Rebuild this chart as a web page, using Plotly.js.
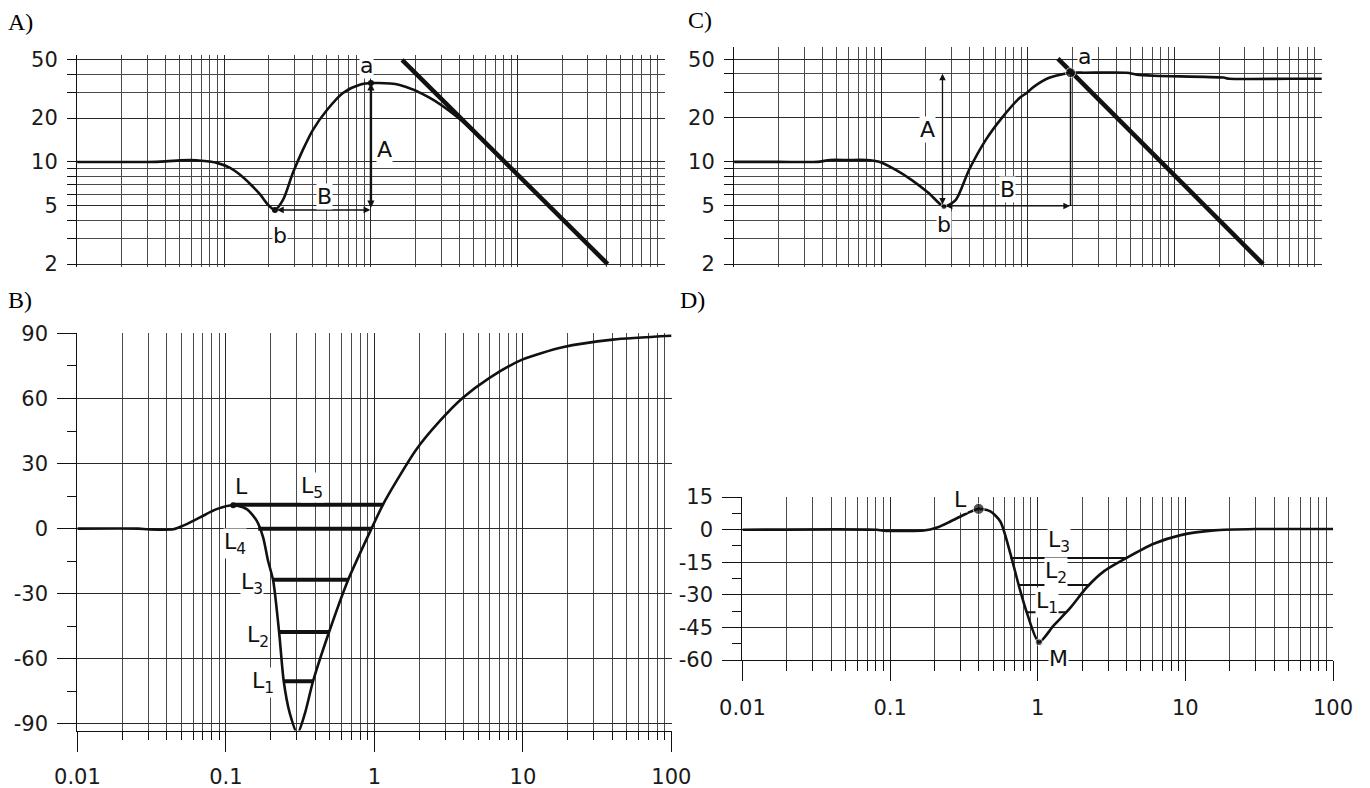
<!DOCTYPE html>
<html>
<head>
<meta charset="utf-8">
<script src="https://cdn.plot.ly/plotly-3.0.1.min.js"></script>
<style>html,body{margin:0;padding:0;background:#fff;}#chart{width:1370px;height:788px;}</style>
</head>
<body>
<div id="chart"></div>
<script>
// ---------- data ----------
const decadeTicks = [0.01, 0.1, 1, 10, 100];
const decadeLabels = ['0.01', '0.1', '1', '10', '100'];
const minorFreqTicks = [0.02,0.03,0.04,0.05,0.06,0.07,0.08,0.09,
  0.2,0.3,0.4,0.5,0.6,0.7,0.8,0.9, 2,3,4,5,6,7,8,9, 20,30,40,50,60,70,80,90];

const magTicks = [2, 5, 10, 20, 50];
const magLabels = ['2', '5', '10', '20', '50'];
const magMinorTicks = [3, 4, 6, 7, 8, 9, 30, 40];

const phaseBTicks = [-90, -60, -30, 0, 30, 60, 90];
const phaseBLabels = ['-90', '-60', '-30', '0', '30', '60', '90'];
const phaseBMinor = [-75, -45, -15, 15, 45, 75];

const phaseDTicks = [-60, -45, -30, -15, 0, 15];
const phaseDLabels = ['-60', '-45', '-30', '-15', '0', '15'];
const phaseDMinor = [-52.5, -37.5, -22.5, -7.5, 7.5];

// Panel A: magnitude
const aFreq = [0.01,0.02,0.03,0.04,0.05,0.06,0.07,0.0895,0.11,0.128,0.15,0.176,0.199,0.222,0.252,0.294,0.344,0.403,0.502,0.645,0.84,1.03,1.57,2.52,3.85,6.45,8,10];
const aMag  = [10,10,10,10.1,10.25,10.3,10.2,9.86,9.1,8.2,7.1,6.0,5.1,4.7,5.5,8.4,12.1,16.6,22.7,29.7,33.8,34.7,33.7,27.5,20.4,12.7,10.2,8.1];
const aAsymFreq = [1.63, 40.9];
const aAsymMag = [50, 2];
const aPointFreq = [1.0, 0.222];
const aPointMag = [34.7, 4.7];

// Panel C: magnitude
const cFreq = [0.01,0.02,0.037,0.045,0.06,0.079,0.097,0.126,0.162,0.212,0.268,0.323,0.397,0.518,0.665,0.88,0.98,1.1,1.41,1.95,2.43,4.7,5.5,7.2,21.4,23.5,60,100];
const cMag  = [10,10,10,10.3,10.3,10.3,10,8.8,7.5,6.1,4.95,5.5,8.8,14.2,20,27.4,29.6,32.7,37.7,40.7,40.7,40.7,39.5,38.8,37.7,37,37,37];
const cAsymFreq = [1.6, 39.9];
const cAsymMag = [50.8, 2];
const cPointFreq = [1.95, 0.268];
const cPointMag = [40.7, 4.95];

// Panel B: phase
const bFreq  = [0.01,0.0257,0.03,0.0442,0.0516,0.0669,0.0865,0.112,0.138,0.161,0.178,0.192,0.208,0.228,0.245,0.269,0.303,0.34,0.386,0.495,0.665,0.955,1.14,1.41,1.92,2.75,3.94,5.96,9.88,18.5,40.2,100];
const bPhase = [0,0,-0.3,-0.3,1.4,5.2,9.0,10.8,9.0,3.7,-4,-14.7,-23.9,-47.6,-70.3,-85,-94.4,-85.2,-70.3,-47.6,-23.6,0,11,22,36.6,49.5,60.3,69.5,77.9,83.6,87.1,88.9];
const bLevelY     = [-70.3, -47.6, -23.5, 0, 11];
const bLevelStart = [0.245, 0.228, 0.208, 0.165, 0.112];
const bLevelEnd   = [0.386, 0.495, 0.665, 0.955, 1.14];
const bPointFreq = [0.112, 0.303];
const bPointPhase = [10.8, -94.4];

// Panel D: phase
const dFreq  = [0.01,0.0815,0.09,0.169,0.208,0.256,0.332,0.398,0.478,0.558,0.653,0.743,0.847,1.02,1.28,1.66,2.15,2.79,4.0,6.1,9.3,15.6,30,100];
const dPhase = [0,0,-0.4,-0.4,1.0,3.8,7.6,9.6,8.4,3.8,-11,-25.5,-38.5,-51.8,-44.2,-36,-26.5,-19.3,-13,-6.5,-2.5,-0.3,0.3,0.3];
const dLevelY     = [-38, -25.5, -13];
const dLevelStart = [0.84, 0.743, 0.653];
const dLevelEnd   = [1.56, 2.25, 4.0];
const dPointFreq = [0.398, 1.02];
const dPointPhase = [9.6, -51.8];

// ---------- layout helpers ----------
const W = 1370, H = 788;
const dX = (a, b) => [a / W, b / W];
const dY = (top, bottom) => [1 - bottom / H, 1 - top / H];
const L10 = Math.log10;
const INK = '#111';
const GRID = '#2a2a2a';
const GRIDMINOR = '#4a4a4a';
const SANS = 'DejaVu Sans, Liberation Sans, Arial, sans-serif';
const tickFont = {family: SANS, size: 21, color: '#1a1a1a'};
const labFont = {family: SANS, size: 22, color: INK};

function freqAxis(domain, anchor, labels, majorLen, minorLen, standoff) {
  return {
    type: 'log', domain: domain, anchor: anchor, range: [-2.001, 2.002],
    tickmode: 'array', tickvals: decadeTicks, ticktext: decadeLabels,
    showticklabels: labels, ticks: labels ? 'outside' : '', ticklen: majorLen, tickcolor: INK, tickwidth: 1,
    ticklabelstandoff: standoff,
    showgrid: true, gridcolor: GRID, gridwidth: 1,
    minor: {tickmode: 'array', tickvals: minorFreqTicks, showgrid: true, gridcolor: GRIDMINOR, gridwidth: 1,
            ticks: labels ? 'outside' : '', ticklen: minorLen, tickcolor: INK},
    showline: false, zeroline: false, tickfont: tickFont, fixedrange: true
  };
}
function levels(starts, ends, ys) {
  const x = [], y = [];
  for (let i = 0; i < ys.length; i++) { x.push(starts[i], ends[i], null); y.push(ys[i], ys[i], null); }
  return {x, y};
}
function lab(xr, yr, xv, yv, text, logY, extra) {
  return Object.assign({xref: xr, yref: yr, x: L10(xv), y: logY ? L10(yv) : yv, text: text,
    showarrow: false, font: labFont, bgcolor: 'white', borderpad: 0}, extra || {});
}
function arrow(xr, yr, x0, y0, x1, y1, w, size) {
  return {xref: xr, yref: yr, axref: xr, ayref: yr, x: L10(x1), y: L10(y1), ax: L10(x0), ay: L10(y0),
    text: '', showarrow: true, arrowhead: 2, startarrowhead: 2, arrowside: 'end+start',
    arrowsize: size, startarrowsize: size, arrowwidth: w, arrowcolor: INK, standoff: 0, startstandoff: 0};
}

const bLev = levels(bLevelStart, bLevelEnd, bLevelY);
const dLev = levels(dLevelStart, dLevelEnd, dLevelY);

const traces = [
  // A
  {x: aFreq, y: aMag, xaxis: 'x', yaxis: 'y', mode: 'lines', line: {color: INK, width: 2.6, shape: 'spline', smoothing: 0.8}},
  {x: aAsymFreq, y: aAsymMag, xaxis: 'x', yaxis: 'y', mode: 'lines', line: {color: INK, width: 4.5}},
  {x: aPointFreq, y: aPointMag, xaxis: 'x', yaxis: 'y', mode: 'markers', marker: {color: INK, size: 6}},
  // B
  {x: bFreq, y: bPhase, xaxis: 'x2', yaxis: 'y2', mode: 'lines', line: {color: INK, width: 2.6, shape: 'spline', smoothing: 0.7}},
  {x: bLev.x, y: bLev.y, xaxis: 'x2', yaxis: 'y2', mode: 'lines', connectgaps: false, line: {color: INK, width: 4}},
  {x: bPointFreq, y: bPointPhase, xaxis: 'x2', yaxis: 'y2', mode: 'markers', marker: {color: INK, size: 6}},
  // C
  {x: cFreq, y: cMag, xaxis: 'x3', yaxis: 'y3', mode: 'lines', line: {color: INK, width: 2.6, shape: 'spline', smoothing: 0.7}},
  {x: cAsymFreq, y: cAsymMag, xaxis: 'x3', yaxis: 'y3', mode: 'lines', line: {color: INK, width: 4.5}},
  {x: [cPointFreq[0], cPointFreq[0]], y: [cPointMag[1] + 0.05, cPointMag[0]], xaxis: 'x3', yaxis: 'y3', mode: 'lines', line: {color: INK, width: 1.5}},
  {x: cPointFreq, y: cPointMag, xaxis: 'x3', yaxis: 'y3', mode: 'markers', marker: {color: INK, size: [10, 6]}},
  // D
  {x: dFreq, y: dPhase, xaxis: 'x4', yaxis: 'y4', mode: 'lines', line: {color: INK, width: 2.6, shape: 'spline', smoothing: 0.7}},
  {x: dLev.x, y: dLev.y, xaxis: 'x4', yaxis: 'y4', mode: 'lines', connectgaps: false, line: {color: INK, width: 2}},
  {x: dPointFreq, y: dPointPhase, xaxis: 'x4', yaxis: 'y4', mode: 'markers', marker: {color: INK, size: [11, 7]}}
];

const magAxis = (domain, anchor, top) => ({
  type: 'log', domain: domain, anchor: anchor, range: [L10(1.91), L10(top)],
  tickmode: 'array', tickvals: magTicks, ticktext: magLabels,
  ticks: 'outside', ticklen: 9, tickcolor: INK, ticklabelstandoff: 5,
  showgrid: true, gridcolor: GRID, gridwidth: 1,
  minor: {tickmode: 'array', tickvals: magMinorTicks, showgrid: true, gridcolor: GRIDMINOR, gridwidth: 1,
          ticks: 'outside', ticklen: 9, tickcolor: INK},
  showline: true, linecolor: INK, linewidth: 1, zeroline: false, tickfont: tickFont, fixedrange: true
});
const phaseAxis = (domain, anchor, range, tv, tt, minorV, standoff) => ({
  type: 'linear', domain: domain, anchor: anchor, range: range,
  tickmode: 'array', tickvals: tv, ticktext: tt,
  ticks: 'outside', ticklen: 19, tickcolor: INK, ticklabelstandoff: standoff,
  showgrid: true, gridcolor: GRID, gridwidth: 1,
  minor: {tickmode: 'array', tickvals: minorV, showgrid: false, ticks: 'outside', ticklen: 9, tickcolor: INK},
  showline: true, linecolor: INK, linewidth: 1, zeroline: false, tickfont: tickFont, fixedrange: true
});

const xB = freqAxis(dX(77.3, 671.7), 'y2', true, 20, 8, 7);
xB.showline = true; xB.linecolor = INK; xB.linewidth = 1;
const xD = freqAxis(dX(742.3, 1333.3), 'y4', true, 20, 10, 9);
xD.showline = true; xD.linecolor = INK; xD.linewidth = 1;

const panelFont = {family: 'Liberation Serif, Times New Roman, serif', size: 24, color: '#000'};
const letter = (t, px, py) => ({xref: 'paper', yref: 'paper', x: px / W, y: 1 - py / H, text: t,
  showarrow: false, xanchor: 'left', yanchor: 'middle', font: panelFont});

const layout = {
  width: W, height: H, margin: {l: 0, r: 0, t: 0, b: 0},
  paper_bgcolor: 'white', plot_bgcolor: 'white', showlegend: false,
  xaxis: freqAxis(dX(77, 665), 'y', false, 0, 0, 0),
  yaxis: magAxis(dY(55, 267), 'x', 54),
  xaxis2: xB,
  yaxis2: phaseAxis(dY(332.7, 730.5), 'x2', [-93, 90.3], phaseBTicks, phaseBLabels, phaseBMinor, 5),
  xaxis3: freqAxis(dX(734, 1322), 'y3', false, 0, 0, 0),
  yaxis3: magAxis(dY(47, 267), 'x3', 61),
  xaxis4: xD,
  yaxis4: phaseAxis(dY(496.7, 660), 'x4', [-60, 15.2], phaseDTicks, phaseDLabels, phaseDMinor, 5),
  annotations: [
    letter('A)', 6, 22), letter('C)', 686, 20), letter('B)', 6, 300), letter('D)', 678, 300),
    // A
    arrow('x', 'y', 1.0, 4.75, 1.0, 34.5, 2.4, 0.6),
    arrow('x', 'y', 0.224, 4.7, 0.99, 4.7, 1.5, 0.9),
    lab('x', 'y', 0.94, 46, 'a', true),
    lab('x', 'y', 1.24, 12.1, 'A', true),
    lab('x', 'y', 0.486, 5.8, 'B', true),
    lab('x', 'y', 0.24, 3.16, 'b', true),
    // C
    arrow('x3', 'y3', 0.262, 5.0, 0.262, 40, 1.3, 1),
    arrow('x3', 'y3', 0.27, 5.0, 1.93, 5.0, 1.3, 1),
    lab('x3', 'y3', 2.44, 52.5, 'a', true),
    lab('x3', 'y3', 0.206, 16.7, 'A', true),
    lab('x3', 'y3', 0.73, 6.5, 'B', true),
    lab('x3', 'y3', 0.27, 3.74, 'b', true),
    // B
    lab('x2', 'y2', 0.128, 19.5, 'L', false),
    lab('x2', 'y2', 0.377, 18.8, 'L<sub>5</sub>', false),
    lab('x2', 'y2', 0.115, -6.8, 'L<sub>4</sub>', false),
    lab('x2', 'y2', 0.149, -25.2, 'L<sub>3</sub>', false),
    lab('x2', 'y2', 0.165, -49.5, 'L<sub>2</sub>', false),
    lab('x2', 'y2', 0.178, -71, 'L<sub>1</sub>', false),
    lab('x2', 'y2', 0.32, -94.4, 'M', false, {yanchor: 'top', yshift: -7}),
    // D
    lab('x4', 'y4', 0.30, 13.7, 'L', false),
    lab('x4', 'y4', 1.39, -5.3, 'L<sub>3</sub>', false),
    lab('x4', 'y4', 1.32, -19.8, 'L<sub>2</sub>', false),
    lab('x4', 'y4', 1.16, -33.5, 'L<sub>1</sub>', false),
    lab('x4', 'y4', 1.39, -59.4, 'M', false)
  ]
};

Plotly.newPlot('chart', traces, layout, {staticPlot: true, displayModeBar: false});
</script>
</body>
</html>
